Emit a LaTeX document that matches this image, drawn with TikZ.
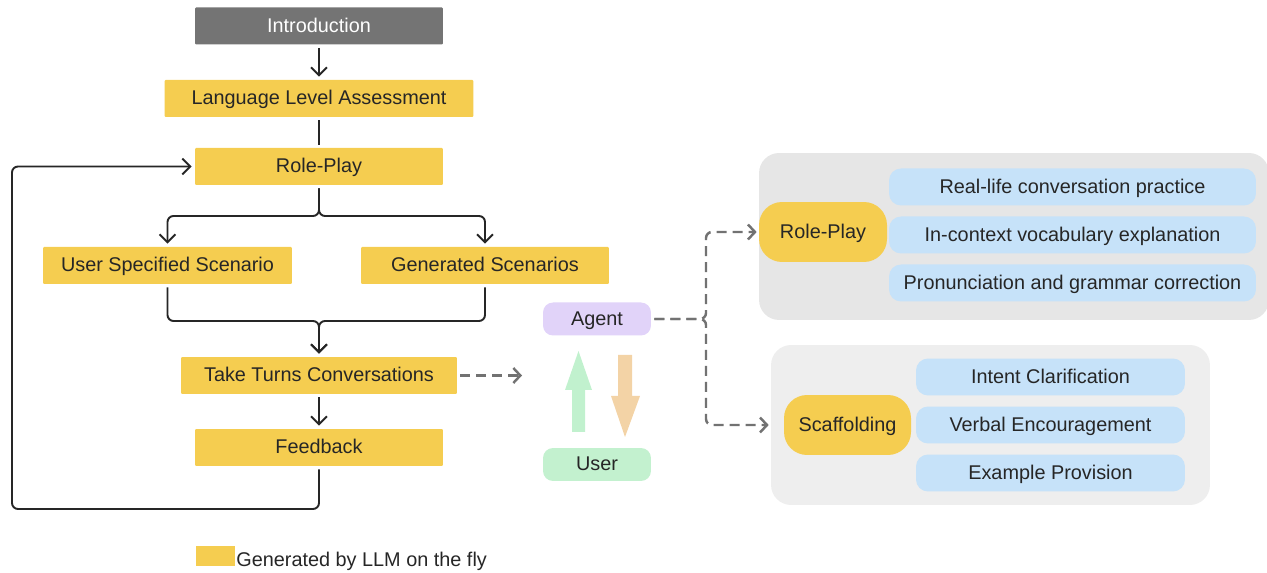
\documentclass[tikz,border=0pt]{standalone}
\usepackage{fontspec}
\setmainfont{Liberation Sans}
\usetikzlibrary{arrows.meta,calc,positioning}

\definecolor{llmyellow}{HTML}{F5CD50}
\definecolor{introgray}{HTML}{747474}
\definecolor{panelgray}{HTML}{E6E6E6}
\definecolor{panellight}{HTML}{EEEEEE}
\definecolor{tipblue}{HTML}{C6E2F9}
\definecolor{agentpurple}{HTML}{E1D3F9}
\definecolor{usergreen}{HTML}{C3F1CF}
\definecolor{upgreen}{HTML}{C1F1CE}
\definecolor{downorange}{HTML}{F3D3A6}
\definecolor{inkdark}{HTML}{262626}
\definecolor{dashgray}{HTML}{727272}

\tikzset{
  every node/.style={text height=0.7em, text depth=0pt},
  llm/.style={fill=llmyellow, rounded corners=0.6pt, minimum height=0.74cm, inner sep=0pt},
  introbox/.style={llm, fill=introgray, text=white},
  actor/.style={rounded corners=2mm, minimum width=2.16cm, minimum height=0.66cm, inner sep=0pt},
  oval/.style={fill=llmyellow, rounded corners=4.6mm, minimum height=1.2cm, inner sep=0pt},
  tipbox/.style={fill=tipblue, rounded corners=2.4mm, minimum height=0.74cm, inner sep=0pt},
  panel/.style={rounded corners=4mm, inner sep=0pt},
  flow/.style={draw=inkdark, line width=1.1pt, rounded corners=1.2mm, -{Straight Barb[length=1.6mm,width=3.2mm]},
    shorten <=0.6mm, shorten >=0.6mm},
  dashflow/.style={draw=dashgray, line width=1.4pt, dash pattern=on 2mm off 1.2mm, rounded corners=1.2mm,
    -{Straight Barb[length=1.4mm,width=3mm]}, shorten <=0.6mm, shorten >=0.4mm},
}

\begin{document}
\begin{tikzpicture}[x=0.02cm, y=-0.02cm, font=\fontsize{11.3}{13}\selectfont, text=inkdark]
	%%%%% START %%%%%
	\def\xm{319}
	\def\wbox{4.96cm}
	\def\joinup{216}
	\def\joindown{321}
	\def\xloop{12}
	\def\yloop{509}
	\def\xfork{706}
	\useasboundingbox (0,0) rectangle (1267,573);

	% main flow
	\node[introbox, minimum width=\wbox] (intro) at (\xm,26) {Introduction};
	\node[llm, minimum width=6.18cm] (lla) at (\xm,98.5) {Language Level Assessment};
	\node[llm, minimum width=\wbox] (rp) at (\xm,166.5) {Role-Play};
	\node[llm, minimum width=4.98cm] (uss) at (167.5,265.5) {User Specified Scenario};
	\node[llm, minimum width=\wbox] (gs) at (485,265.5) {Generated Scenarios};
	\node[llm, minimum width=5.52cm] (tt) at (\xm,375.5) {Take Turns Conversations};
	\node[llm, minimum width=\wbox] (fb) at (\xm,447.5) {Feedback};

	\draw[flow] (intro) -- (lla);
	\draw[flow, -] (lla) -- (rp);
	\draw[flow] (rp.south) -- (\xm,\joinup) -| (uss.north);
	\draw[flow] (rp.south) -- (\xm,\joinup) -| (gs.north);
	\draw[flow] (uss.south) |- (\xm,\joindown) -- (tt.north);
	\draw[flow] (gs.south) |- (\xm,\joindown) -- (tt.north);
	\draw[flow] (tt) -- (fb);
	\coordinate (loopturn) at (\xloop,\yloop);
	\draw[flow] (fb.south) |- (loopturn) |- (rp.west);

	% agent and user
	\node[actor, fill=agentpurple] (agent) at (597,319) {Agent};
	\node[actor, fill=usergreen] (user) at (597,464.5) {User};
	\coordinate (exchange) at (524,375.5);
	\draw[dashflow] (tt.east) -- (exchange);
	\fill[upgreen] (572,432) -- (572,390) -- (565,390) -- (578.5,351) -- (592,390) -- (585,390) -- (585,432) -- cycle;
	\fill[downorange] (618,355) -- (632,355) -- (632,396) -- (640,396) -- (625,437) -- (611,396) -- (618,396) -- cycle;

	% role-play panel
	\node[panel, fill=panelgray, minimum width=10.2cm, minimum height=3.34cm] (rppanel) at (1014,236.5) {};
	\node[oval, minimum width=2.56cm] (rpo) at (823,232) {Role-Play};
	\node[tipbox, minimum width=7.34cm] (real) at (1072.5,187) {Real-life conversation practice};
	\node[tipbox, minimum width=7.34cm] (vocab) at (1072.5,235) {In-context vocabulary explanation};
	\node[tipbox, minimum width=7.34cm] (pron) at (1072.5,283) {Pronunciation and grammar correction};

	% scaffolding panel
	\node[panel, fill=panellight, minimum width=8.78cm, minimum height=3.2cm] (scpanel) at (990.5,425) {};
	\node[oval, minimum width=2.54cm] (sco) at (847.5,425) {Scaffolding};
	\node[tipbox, minimum width=5.38cm] (intent) at (1050.5,377) {Intent Clarification};
	\node[tipbox, minimum width=5.38cm] (verbal) at (1050.5,425) {Verbal Encouragement};
	\node[tipbox, minimum width=5.38cm] (example) at (1050.5,473) {Example Provision};

	\coordinate (fork) at (\xfork,319);
	\draw[dashflow] (agent.east) -- (fork) |- (rpo.west);
	\draw[dashflow] (agent.east) -- (fork) |- (scpanel.west);

	% legend
	\node[fill=llmyellow, minimum width=0.78cm, minimum height=0.4cm, inner sep=0pt] (key) at (215.5,556) {};
	\node[anchor=west, inner sep=0pt] (keytext) at (236,560) {Generated by LLM on the fly};
	%%%%% END %%%%%
\end{tikzpicture}
\end{document}
